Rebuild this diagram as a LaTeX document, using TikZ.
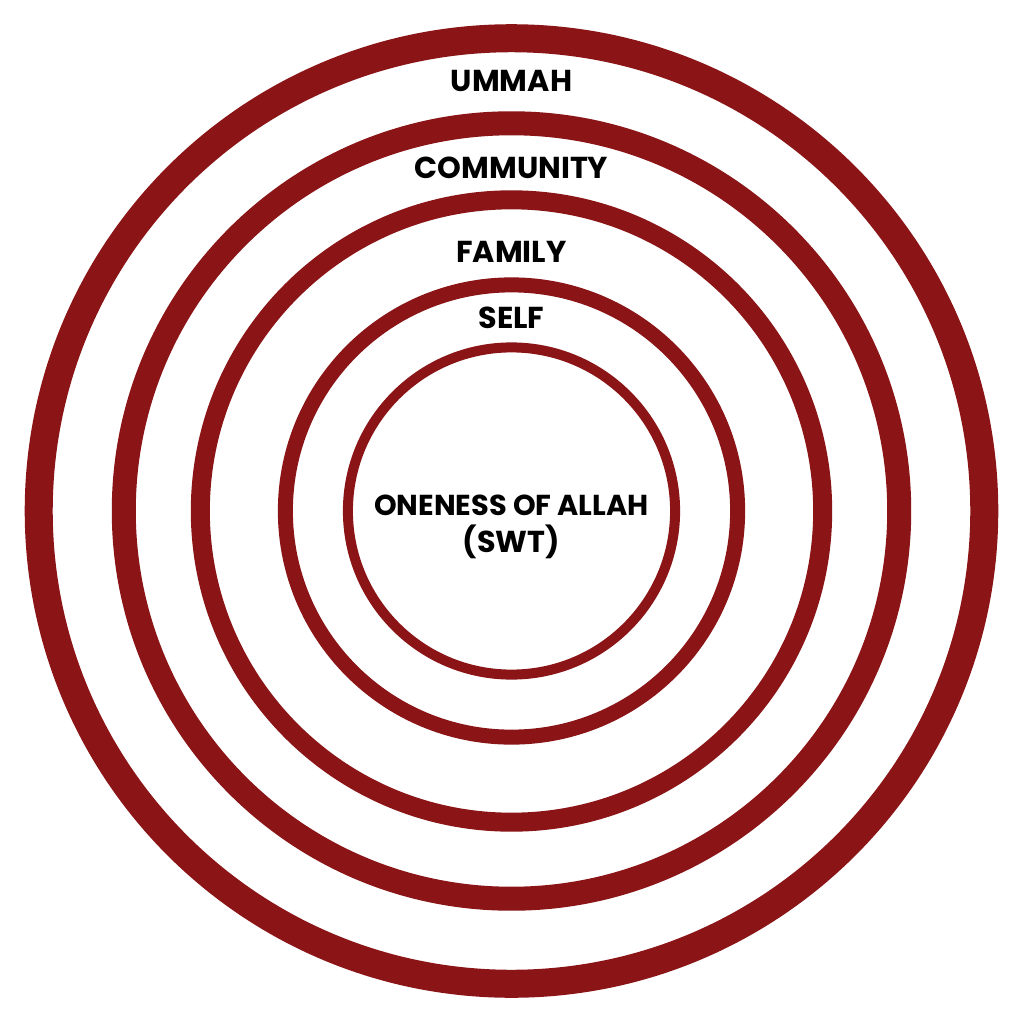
\documentclass[tikz,border=0pt]{standalone}
\usepackage{fontspec}
\setmainfont{Poppins}
\usepackage{tikz}
\definecolor{ringred}{RGB}{139,20,22}

\begin{document}
\begin{tikzpicture}[x=0.01cm,y=-0.01cm,
	lbl/.style={font=\bfseries\fontsize{8.6}{11}\selectfont,inner sep=0pt,anchor=base}]
	\useasboundingbox (0,0) rectangle (1024,1024);
	\coordinate (O) at (511.5,511);
	%
	\foreach \r/\w in {4.725/0.28,3.875/0.24,3.11/0.19,2.26/0.15,1.635/0.10}
		\draw[ringred,line width=\w cm] (O) circle[radius=\r cm];
	%
	\node[lbl] (ummah) at (511.5,91) {UMMAH};
	\node[lbl] (community) at (511.5,178) {COMMUNITY};
	\node[lbl] (family) at (511.5,262) {FAMILY};
	\node[lbl] (self) at (511.5,328) {SELF};
	\node[lbl,font=\bfseries\fontsize{8.2}{11}\selectfont] (allah) at (511.5,515) {ONENESS OF ALLAH};
	\node[lbl] (swt) at (511.5,552) {(SWT)};
\end{tikzpicture}
\end{document}
